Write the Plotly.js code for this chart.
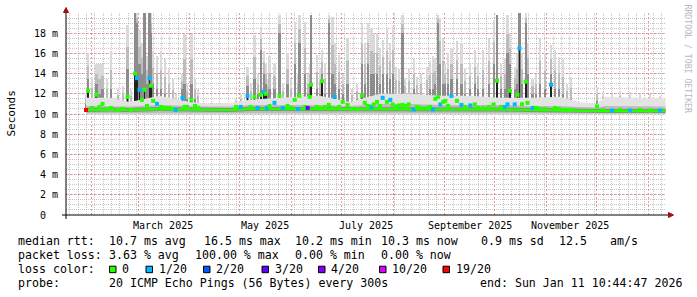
<!DOCTYPE html>
<html><head><meta charset="utf-8">
<script src="https://cdn.plot.ly/plotly-3.0.1.min.js"></script>
<style>html,body{margin:0;padding:0;background:#fff}#chart{width:697px;height:297px}</style>
</head><body><div id="chart"></div>
<script>
// ---------- data ----------
const timeStart = '2025-01-16 18:00';
const timeEnd = '2026-01-11 18:00';
const tickLabels = ['March 2025','May 2025','July 2025','September 2025','November 2025'];
const tickDates = ['2025-03-16','2025-05-16','2025-07-16','2025-09-16','2025-11-15'];
const yTickValues = [0,2,4,6,8,10,12,14,16,18];
const yTickLabels = ['0\u00a0\u00a0','2 m','4 m','6 m','8 m','10 m','12 m','14 m','16 m','18 m'];

// baseline smoke (ms)
const baseTime = ['2025-01-28 18:00','2025-02-12','2025-02-24','2025-03-14','2025-04-01','2025-04-13','2025-04-25','2025-05-07','2025-05-25','2025-06-18','2025-07-06','2025-07-24','2025-08-11','2025-08-29','2025-09-16','2025-10-04','2025-10-22','2025-11-09','2025-11-21','2025-12-01 08:00','2025-12-06','2025-12-21','2026-01-11 10:44'];
const baseTop = [11.6,11.6,11.2,11.8,11.2,11.0,11.1,11.4,11.6,11.8,11.2,12.0,12.0,11.8,11.8,11.6,11.6,11.7,11.2,11.0,11.7,11.6,11.5];
const baseMid = [10.8,10.8,10.75,10.9,10.8,10.75,10.75,10.9,10.9,10.9,10.8,11.0,11.0,10.9,10.9,10.9,10.8,10.8,10.7,10.65,10.8,10.75,10.75];
const baseMed = [10.4,10.45,10.4,10.5,10.45,10.4,10.4,10.5,10.5,10.5,10.45,10.5,10.5,10.45,10.45,10.45,10.4,10.35,10.3,10.3,10.3,10.3,10.3];
const baseLow = [9.95,9.95,9.95,10.0,10.0,9.95,9.95,10.0,10.0,10.0,10.0,10.0,10.0,10.0,10.0,10.0,9.95,9.95,9.95,9.95,9.95,9.95,9.95];

// individual smoke spikes: max ping, upper quartile, median (ms), lost pings out of 20
const spikeTime = ['2025-01-28 18:00','2025-01-30 00:00','2025-02-01 08:00','2025-02-04 00:00','2025-02-05 20:00','2025-02-07 16:00','2025-02-10 08:00','2025-02-12 18:00','2025-02-17 00:00','2025-02-20 00:00','2025-02-22 16:00','2025-02-24 18:00','2025-02-27 04:00','2025-02-28 08:00','2025-03-01 20:00','2025-03-03 08:00','2025-03-04 20:00','2025-03-06 08:00','2025-03-07 20:00','2025-03-08 18:00','2025-03-10 00:00','2025-03-12 08:00','2025-03-14 18:00','2025-03-17 04:00','2025-03-19 12:00','2025-03-22 00:00','2025-03-23 12:00','2025-03-27 16:00','2025-03-28 20:00','2025-03-30 08:00','2025-04-02 00:00','2025-04-04 04:00','2025-04-06 00:00','2025-04-28 18:00','2025-05-01 12:00','2025-05-05 16:00','2025-05-07 12:00','2025-05-09 20:00','2025-05-11 18:00','2025-05-13 12:00','2025-05-15 08:00','2025-05-16 12:00','2025-05-17 08:00','2025-05-18 20:00','2025-05-21 20:00','2025-05-24 20:00','2025-05-26 18:00','2025-05-29 16:00','2025-05-31 18:00','2025-06-03 00:00','2025-06-05 00:00','2025-06-05 20:00','2025-06-09 04:00','2025-06-10 18:00','2025-06-12 00:00','2025-06-12 18:00','2025-06-16 04:00','2025-06-18 04:00','2025-06-19 08:00','2025-06-21 04:00','2025-06-23 12:00','2025-06-25 16:00','2025-06-27 00:00','2025-06-29 12:00','2025-07-01 18:00','2025-07-04 16:00','2025-07-07 08:00','2025-07-10 08:00','2025-07-13 08:00','2025-07-15 00:00','2025-07-17 00:00','2025-07-19 00:00','2025-07-20 08:00','2025-07-22 08:00','2025-07-24 04:00','2025-07-25 18:00','2025-07-28 08:00','2025-07-30 08:00','2025-07-31 18:00','2025-08-02 18:00','2025-08-04 08:00','2025-08-06 16:00','2025-08-08 04:00','2025-08-10 08:00','2025-08-13 08:00','2025-08-15 08:00','2025-08-17 18:00','2025-08-21 08:00','2025-08-23 04:00','2025-08-25 00:00','2025-08-26 08:00','2025-08-28 00:00','2025-08-29 08:00','2025-08-31 00:00','2025-09-01 08:00','2025-09-03 00:00','2025-09-05 00:00','2025-09-08 08:00','2025-09-11 00:00','2025-09-13 04:00','2025-09-16 08:00','2025-09-19 00:00','2025-09-21 00:00','2025-09-24 00:00','2025-09-27 12:00','2025-09-30 08:00','2025-10-02 08:00','2025-10-04 18:00','2025-10-07 00:00','2025-10-08 16:00','2025-10-10 04:00','2025-10-13 00:00','2025-10-14 16:00','2025-10-15 20:00','2025-10-17 08:00','2025-10-19 12:00','2025-10-20 16:00','2025-10-23 16:00','2025-10-25 18:00','2025-10-28 04:00','2025-10-31 04:00','2025-11-03 18:00','2025-11-06 04:00','2025-11-08 12:00','2025-11-11 00:00','2025-11-13 08:00','2025-11-15 18:00','2025-12-01 08:00','2025-12-05 00:00','2025-12-10 08:00','2025-12-15 04:00','2025-12-21 04:00','2025-12-27 04:00','2026-01-02 04:00','2026-01-08 04:00'];
const spikeMax = [12.0,16.0,13.7,15.0,15.0,15.0,13.5,16.2,12.5,12.8,18.8,12.5,20,20,18.3,17,20,15.7,20,20,16.2,15.7,16.2,15.4,14.5,13.5,12,14,17.9,13,17.9,13.5,12.5,11.5,12,14.7,13,17.8,14,18.6,16.2,15,13.5,15.7,15.0,19.8,13,16.0,13.5,19.1,14,19.8,19.1,14,15,19.8,15.8,14.5,16.3,15,19.8,19.6,17,15.8,14,17.5,12.5,13,18.9,17.0,19.0,18.5,18.0,18.0,16.5,17.3,18.5,17.0,18.6,14.7,14.5,19.8,13.6,14.5,15.5,13.7,14,14.7,15.2,15.7,15.5,19.8,19.5,17.5,15,16,16.5,17.2,17,14.5,15.0,16.3,15,16.3,17.5,19.3,19.8,15,15.5,19.8,18,14.7,16,20,16,20,17,13.5,14,17.5,16,16.8,16.3,15.6,15.4,13,13.7,12.7,12.2,12.0,12.3,12.2,12.0,12.0,11.8];
const spikeUpper = [11.0,13.5,11.5,13.0,12.0,12.5,11.5,12.5,11.2,11.3,14.5,11.0,20,19,15,14,20,13,20,18,13,12.5,12.5,12,11.5,11.3,11,12.5,13,11.5,13,11.5,11,11,11,12.8,11.5,13.5,12,16.3,14,13,12,12.5,12.5,18,11.5,13,11.5,15,12,17,14,12,13,19.8,12.5,12,14,12,19,14,13,12.5,12,13,11.3,11.5,15,13,15,14,14,14,13,14,14,13.5,14,12,12,18,12,12,12.5,12,12,12,12.5,12.5,13,19,15,13,13,13,13.5,13.5,13,12,12.5,13,12.5,12.5,13,15,19.8,12.5,12.5,16,15,12.5,13,20,13,19,14,12,12,13,12.5,14,12.5,12.5,12,11.5,11.5,11.3,11.2,11.1,11.2,11.2,11.1,11.1,11.0];
const spikeMedian = [10.4,12.3,10.6,11.9,10.7,11.0,10.5,10.6,10.4,10.5,11.7,10.4,14.0,13.55,12.4,11.4,12.4,10.8,13.55,12.8,11.3,11.0,10.7,10.6,10.6,10.5,10.4,11.6,10.7,10.7,11.4,10.8,10.6,10.7,10.7,11.8,10.7,11.7,10.6,11.9,12.2,12.0,10.6,10.8,11.1,11.8,10.6,10.8,10.6,11.4,10.5,11.8,10.7,10.6,11.7,12.9,10.7,10.6,13.25,10.7,10.9,10.6,11.7,10.7,11.2,10.9,10.5,10.5,11.8,11.1,10.8,10.7,10.95,11.2,10.8,11.6,11.2,11.4,10.95,10.7,10.85,10.9,10.8,10.95,10.45,10.7,10.6,10.6,10.7,10.45,11.5,11.7,10.95,11.2,11.3,10.8,11.8,11.3,10.9,10.7,10.85,10.95,10.6,10.6,10.7,10.95,13.3,10.7,10.7,10.95,12.3,10.95,11.9,16.5,10.97,13.2,11.1,10.6,10.6,10.5,10.5,12.9,10.6,10.5,10.4,10.4,10.4,10.75,10.4,10.35,10.4,10.35,10.4,10.35,10.35];
const spikeLost = [19,0,0,0,0,0,0,0,0,0,0,0,0,1,1,0,0,0,1,0,0,1,0,0,0,0,1,1,0,0,0,0,0,0,1,1,0,0,1,0,1,0,1,0,1,0,1,0,0,0,1,0,0,3,0,0,0,0,0,0,0,0,1,0,0,0,0,0,0,0,0,1,0,0,0,1,0,1,0,0,0,0,0,0,1,0,0,0,0,1,0,0,1,0,0,0,1,0,1,0,1,0,0,0,0,0,0,0,1,1,0,1,0,1,0,0,0,1,0,0,0,1,0,0,0,0,0,0,0,1,0,1,0,0,1];

// legend texts
const rttLabel = 'median rtt:';
const rttStats = ['10.7 ms avg','16.5 ms max','10.2 ms min','10.3 ms now','0.9 ms sd','12.5','am/s'];
const lossLabel = 'packet loss:';
const lossStats = ['3.63 % avg','100.00 % max','0.00 % min','0.00 % now'];
const colorLabel = 'loss color:';
const lossLevels = ['0','1/20','2/20','3/20','4/20','10/20','19/20'];
const lossCounts = [0,1,2,3,4,10,19];
const lossColors = ['#26ff00','#00b8ff','#0059ff','#5e00ff','#7e00ff','#dd00ff','#ff0000'];
const probeLabel = 'probe:';
const probeText = '20 ICMP Echo Pings (56 Bytes) every 300s';
const endText = 'end: Sun Jan 11 10:44:47 2026';
const yTitle = 'Seconds';
const credit = 'RRDTOOL / TOBI OETIKER';

// ---------- layout helpers ----------
const W = 697, H = 297, L = 66, R = 31, T = 13, B = 82;
const PW = W - L - R, PH = H - T - B;
const P = px => (px - L) / PW;
const Q = py => (T + PH - py) / PH;
const mono = 'DejaVu Sans Mono, monospace';
const DAY = 86400000;
const FLOOR = 10.2;

function lossColor(n){
  let idx = 0;
  lossCounts.forEach((c,i)=>{ if (n >= c) idx = i; });
  return lossColors[idx];
}
const clear = {width:0, color:'rgba(0,0,0,0)'};
const band = (y, fill) => Object.assign({x: baseTime, y: y, type:'scatter', mode:'lines', line:clear, hoverinfo:'skip'}, fill ? {fill:'tonexty', fillcolor:fill} : {});
const bar = (top, color, w) => ({x: spikeTime, y: top.map(v=>v-FLOOR), base: FLOOR, type:'bar', width:w*DAY, marker:{color:color, line:{width:0}}, hoverinfo:'skip'});

const traces = [
  band(baseLow), band(baseTop, '#e3e3e3'),
  band(baseLow.map(v=>v+0.1)), band(baseMid, '#bdbdbd'),
  band(baseMed.map(v=>v-0.2)), band(baseMed.map(v=>v+0.2), '#858585'),
  bar(spikeMax, '#d9d9d9', 1.3),
  bar(spikeMax.map((v,i)=>(v+spikeUpper[i])/2), '#bcbcbc', 1.3),
  bar(spikeUpper, '#8c8c8c', 1.3),
  bar(spikeMedian, '#222222', 1.15),
  {x: baseTime, y: baseMed, type:'scatter', mode:'lines', line:{width:2.6, color:lossColors[0]}, hoverinfo:'skip'},
  {x: spikeTime, y: spikeMedian, type:'scatter', mode:'markers', marker:{symbol:'square', size:4, color: spikeLost.map(lossColor), line:{width:0}}, hoverinfo:'skip'}
];

const annotations = [];
function txt(text, px, py, opts){
  annotations.push(Object.assign({text: text, xref:'paper', yref:'paper', x:P(px), y:Q(py), xanchor:'left', yanchor:'middle', showarrow:false, font:{family:mono, size:11.6, color:'#000'}}, opts||{}));
}
tickLabels.forEach((t,i)=>{
  annotations.push({text:t, xref:'x', yref:'paper', x:tickDates[i], y:Q(225), xanchor:'center', yanchor:'middle', showarrow:false, font:{family:mono, size:10, color:'#000'}});
});
const rttX = [107.3,201.7,293.3,379.3,479.3,557.3,607.7];
txt(rttLabel, 16, 241);
rttStats.forEach((s,i)=>txt(s, rttX[i], 241));
const lossX = [107.3,193.3,292.7,379.3];
txt(lossLabel, 16, 255);
lossStats.forEach((s,i)=>txt(s, lossX[i], 255));
txt(colorLabel, 16, 269);
const sqX = [109.5,146,203.5,262,318.5,379.5,443];
const shapes = [];
lossLevels.forEach((s,i)=>{
  shapes.push({type:'rect', xref:'paper', yref:'paper', x0:P(sqX[i]), x1:P(sqX[i]+6.5), y0:Q(272.7), y1:Q(266.2), fillcolor:lossColors[i], line:{color:'#000', width:1}});
  txt(s, sqX[i]+10.5, 269);
});
txt(probeLabel, 16, 283);
txt(probeText, 107.3, 283);
txt(endText, 478.3, 283);
annotations.push({text:yTitle, xref:'paper', yref:'paper', x:P(11), y:Q(113.5), xanchor:'center', yanchor:'middle', textangle:-90, showarrow:false, font:{family:mono, size:11, color:'#000'}});
annotations.push({text:credit, xref:'paper', yref:'paper', x:P(687.5), y:Q(59), xanchor:'center', yanchor:'middle', textangle:90, showarrow:false, font:{family:mono, size:8.2, color:'#b8b8b8'}});

shapes.push({type:'line', xref:'paper', yref:'paper', x0:P(62), x1:P(670), y0:0, y1:0, line:{color:'#000', width:1}, layer:'above'});
shapes.push({type:'line', xref:'paper', yref:'paper', x0:0, x1:0, y0:Q(219), y1:Q(11), line:{color:'#000', width:1}, layer:'above'});
shapes.push({type:'path', xref:'paper', yref:'paper', path:`M ${P(63.5)} ${Q(12.5)} L ${P(68.5)} ${Q(12.5)} L ${P(66)} ${Q(7.5)} Z`, fillcolor:'#a01010', line:{color:'#a01010', width:1}, layer:'above'});
shapes.push({type:'path', xref:'paper', yref:'paper', path:`M ${P(668.5)} ${Q(212.5)} L ${P(668.5)} ${Q(217.5)} L ${P(673.5)} ${Q(215)} Z`, fillcolor:'#a01010', line:{color:'#a01010', width:1}, layer:'above'});

const layout = {
  width:W, height:H, margin:{l:L, r:R, t:T, b:B, pad:0},
  paper_bgcolor:'#fff', plot_bgcolor:'#fff', showlegend:false, barmode:'overlay', bargap:0,
  xaxis:{type:'date', range:[timeStart, timeEnd], showticklabels:false, ticks:'', zeroline:false, showline:false,
    showgrid:true, dtick:'M1', tick0:'2025-02-01', gridcolor:'rgba(230,120,120,0.75)', griddash:'2px,2px', gridwidth:1,
    minor:{showgrid:true, dtick:5*DAY, tick0:'2025-10-06', gridcolor:'rgba(160,160,160,0.6)', griddash:'1px,1px', gridwidth:1, ticks:''}},
  yaxis:{range:[0,20], tickmode:'array', tickvals:yTickValues, ticktext:yTickLabels, ticks:'outside', ticklen:5, tickcolor:'rgba(0,0,0,0)',
    tickfont:{family:mono, size:10, color:'#000'}, zeroline:false, showline:false,
    showgrid:true, gridcolor:'rgba(230,120,120,0.75)', griddash:'2px,2px', gridwidth:1,
    minor:{tickmode:'linear', tick0:0, dtick:0.5, showgrid:true, gridcolor:'rgba(160,160,160,0.6)', griddash:'1px,1px', gridwidth:1, ticks:''}},
  annotations: annotations, shapes: shapes
};
Plotly.newPlot('chart', traces, layout, {staticPlot:true, displayModeBar:false});
</script></body></html>
